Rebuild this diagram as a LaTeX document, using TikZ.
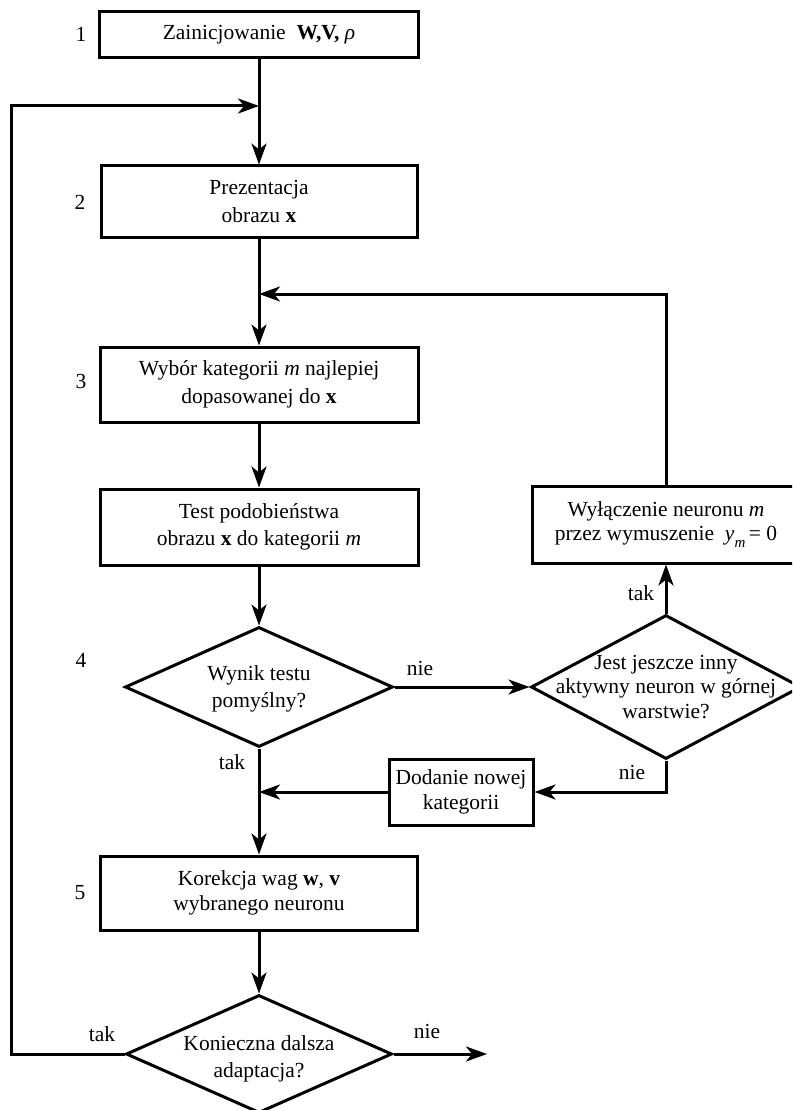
\documentclass[tikz,border=0pt]{standalone}
\usepackage{fontspec}
\setmainfont{Liberation Serif}
\usetikzlibrary{shapes.geometric,arrows.meta}

\tikzset{
  txt/.style={font=\fontsize{21.5}{27.5}\selectfont, align=center, inner sep=0pt},
  tight/.style={font=\fontsize{21.5}{24.5}\selectfont},
  box/.style={draw, rectangle, line width=3pt, txt},
  dia/.style={draw, diamond, line width=3pt, inner sep=0pt},
  flow/.style={line width=3pt, -{Stealth[length=21pt,width=15pt,inset=6pt]}},
}

\begin{document}
\begin{tikzpicture}[x=1pt,y=-1pt]
\clip (0,0) rectangle (792,1110);
\fill[white] (0,0) rectangle (792,1110);

% main column
\node[box, minimum width=319pt, minimum height=46pt] (b1) at (259,35)
  {Zainicjowanie \ \textbf{W,V,} \textit{ρ}};
\node[box, minimum width=316pt, minimum height=71pt] (b2) at (259,201.5)
  {Prezentacja\\obrazu \textbf{x}};
\node[box, minimum width=318pt, minimum height=75pt] (b3) at (259,384.5)
  {Wybór kategorii \textit{m} najlepiej\\dopasowanej do \textbf{x}};
\node[box, minimum width=318pt, minimum height=76pt] (b4) at (259,527)
  {Test podobieństwa\\obrazu \textbf{x} do kategorii \textit{m}};
\node[dia, minimum width=268pt, minimum height=120pt] (d1) at (259,687) {};
\node[txt] (d1t) at (259,689) {Wynik testu\\pomyślny?};
\node[box, minimum width=317pt, minimum height=74pt, tight] (b5) at (259,893)
  {Korekcja wag \textbf{w}, \textbf{v}\\wybranego neuronu};
\node[dia, minimum width=266pt, minimum height=118pt] (d3) at (259,1054) {};
\node[txt] (d3t) at (259,1059) {Konieczna dalsza\\adaptacja?};

% right branch
\node[dia, minimum width=270pt, minimum height=144pt] (d2) at (666,687) {};
\node[txt, tight] (d2t) at (666,687) {Jest jeszcze inny\\aktywny neuron w górnej\\warstwie?};
\node[box, minimum width=268pt, minimum height=77pt, tight] (b6) at (666,524.5)
  {Wyłączenie neuronu \textit{m}\\przez wymuszenie \ \textit{y}\raisebox{-0.3em}{\fontsize{15}{15}\selectfont\textit{m}}\,= 0};
\node[box, minimum width=144pt, minimum height=66pt, tight] (b7) at (461,792)
  {Dodanie nowej\\kategorii};

% step numbers
\node[txt] (n1) at (81,34) {1};
\node[txt] (n2) at (80,202) {2};
\node[txt] (n3) at (81,381) {3};
\node[txt] (n4) at (81,660) {4};
\node[txt] (n5) at (80,893) {5};

% junctions and free ends
\coordinate (j1) at (259,106);
\coordinate (j2) at (259,294);
\coordinate (j3) at (259,792);
\coordinate (cl) at (11,106);
\coordinate (out) at (487,1054);

% connectors
\draw[flow] (b1.south) -- (b2.north);
\draw[flow] (b2.south) -- (b3.north);
\draw[flow] (b3.south) -- (b4.north);
\draw[flow] (b4.south) -- (d1.north);
\draw[flow] (d1.south) -- (b5.north);
\draw[flow] (b5.south) -- (d3.north);
\draw[flow] (d1.east) -- (d2.west);
\draw[flow] (d2.north) -- (b6.south);
\draw[flow] (b6.north) |- (j2);
\draw[flow] (d2.south) |- (b7.east);
\draw[flow] (b7.west) -- (j3);
\draw[flow] (d3.east) -- (out);
\draw[flow] (d3.west) -| (cl) -- (j1);

% branch labels
\node[txt] (l1) at (420,668) {nie};
\node[txt] (l2) at (641,593) {tak};
\node[txt] (l3) at (632,772) {nie};
\node[txt] (l4) at (232,762) {tak};
\node[txt] (l5) at (102,1034) {tak};
\node[txt] (l6) at (427,1031) {nie};
\end{tikzpicture}
\end{document}
